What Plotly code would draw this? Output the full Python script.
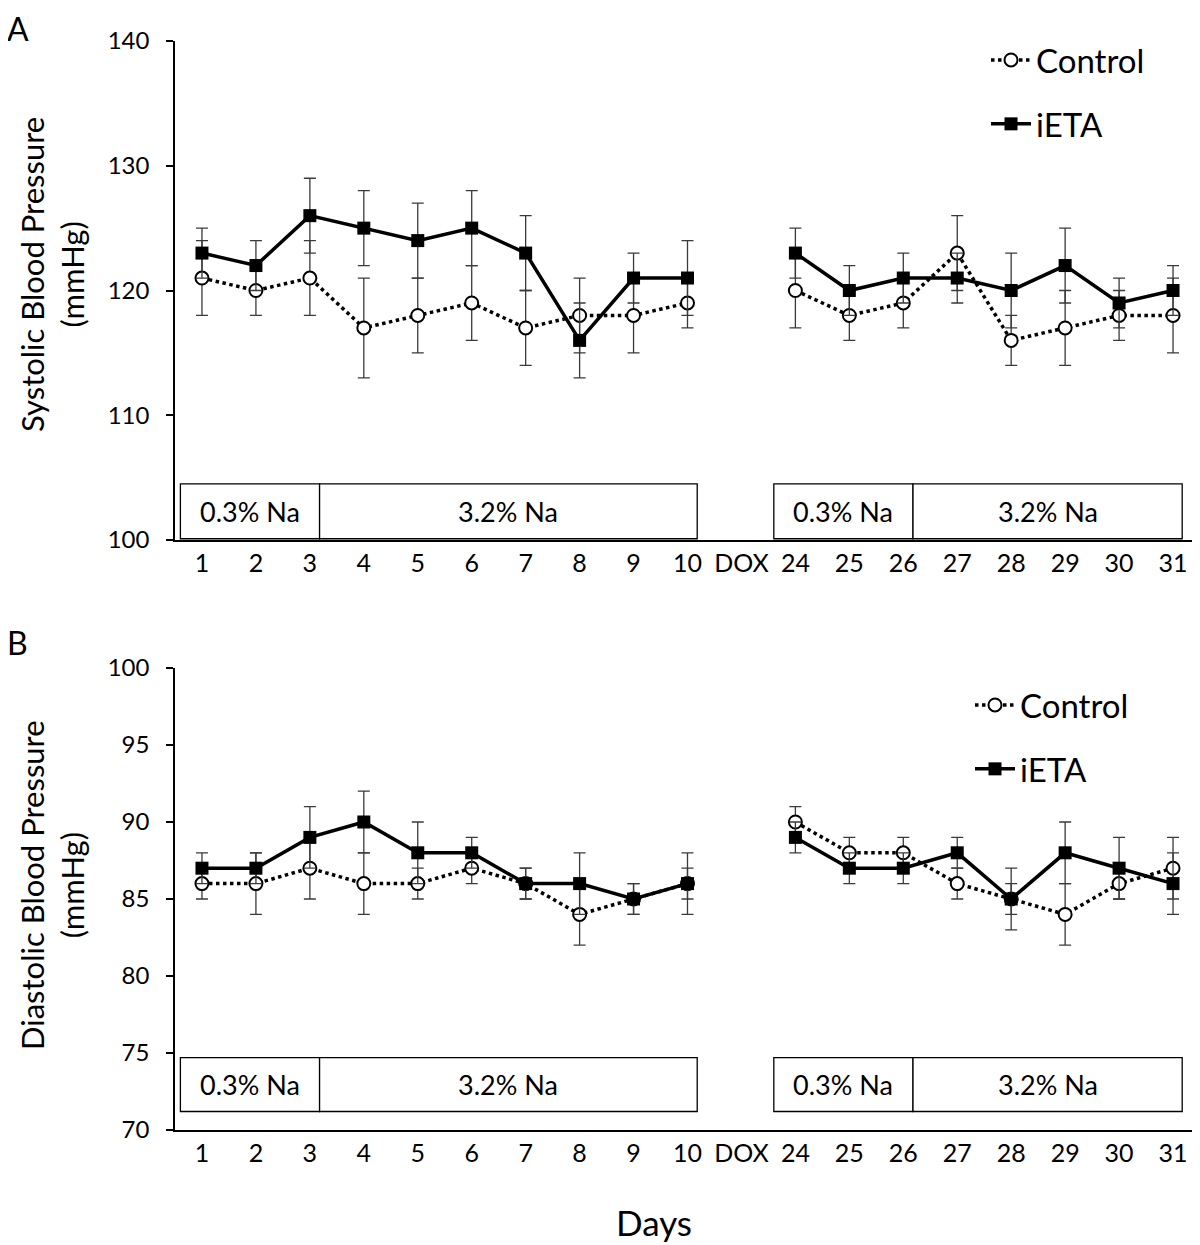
import plotly.graph_objects as go

# ---------------- data ----------------
days = ["1", "2", "3", "4", "5", "6", "7", "8", "9", "10", "DOX",
        "24", "25", "26", "27", "28", "29", "30", "31"]

sys_control = [121, 120, 121, 117, 118, 119, 117, 118, 118, 119, None,
               120, 118, 119, 123, 116, 117, 118, 118]
sys_control_err = [3, 2, 3, 4, 3, 3, 3, 3, 3, 2, None,
                   3, 2, 2, 3, 2, 3, 2, 3]
sys_ieta = [123, 122, 126, 125, 124, 125, 123, 116, 121, 121, None,
            123, 120, 121, 121, 120, 122, 119, 120]
sys_ieta_err = [2, 2, 3, 3, 3, 3, 3, 3, 2, 3, None,
                2, 2, 2, 2, 3, 3, 2, 2]

dia_control = [86, 86, 87, 86, 86, 87, 86, 84, 85, 86, None,
               90, 88, 88, 86, 85, 84, 86, 87]
dia_control_err = [1, 2, 2, 2, 1, 1, 1, 2, 1, 1, None,
                   1, 1, 1, 1, 1, 2, 1, 2]
dia_ieta = [87, 87, 89, 90, 88, 88, 86, 86, 85, 86, None,
            89, 87, 87, 88, 85, 88, 87, 86]
dia_ieta_err = [1, 1, 2, 2, 2, 1, 1, 2, 1, 2, None,
                1, 1, 1, 1, 2, 2, 2, 2]

sys_ticks = [100, 110, 120, 130, 140]
dia_ticks = [70, 75, 80, 85, 90, 95, 100]

diet_labels = ["0.3% Na", "3.2% Na", "0.3% Na", "3.2% Na"]

# ---------------- styling ----------------
FONT = "Lato, 'Open Sans', sans-serif"
OFF = 8                      # default page body margin of the html page
W, H = 1200 - OFF, 1245 - OFF
ML = 175 - OFF
PW = W - ML
ERR_COLOR = "#3a3a3a"


def px_y(yref_px):
    """page pixel (reference) -> paper y"""
    return 1 - (yref_px - OFF) / H


def px_x(xref_px):
    """page pixel (reference) -> paper x"""
    return (xref_px - OFF - ML) / PW


fig = go.Figure()


def add_series(y, err, name, xa, ya, legend, kind):
    if kind == "control":
        line = dict(color="black", width=3.5, dash="dot")
        marker = dict(symbol="circle", size=13, color="white",
                      line=dict(color="black", width=2))
    else:
        line = dict(color="black", width=3.5)
        marker = dict(symbol="square", size=13, color="black",
                      line=dict(color="black", width=0))
    fig.add_trace(go.Scatter(
        x=days, y=y, name=name, mode="lines+markers",
        line=line, marker=marker, connectgaps=False,
        error_y=dict(type="data", array=err, visible=True,
                     color=ERR_COLOR, thickness=1.3, width=6),
        xaxis=xa, yaxis=ya, legend=legend, legendgroup=name + legend,
    ))


add_series(sys_control, sys_control_err, "Control", "x", "y", "legend", "control")
add_series(sys_ieta, sys_ieta_err, "iETA", "x", "y", "legend", "ieta")
add_series(dia_control, dia_control_err, "Control", "x2", "y2", "legend2", "control")
add_series(dia_ieta, dia_ieta_err, "iETA", "x2", "y2", "legend2", "ieta")

axis_common = dict(
    showgrid=False, zeroline=False, showline=True, linecolor="black",
    linewidth=1.5, automargin=False,
)
xtickfont = dict(family=FONT, size=25, color="black")
ytickfont = dict(family=FONT, size=24, color="black")

domA = [px_y(540), px_y(41)]
domB = [px_y(1130), px_y(668)]

fig.update_layout(
    width=W, height=H,
    margin=dict(l=ML, r=0, t=0, b=0, autoexpand=False),
    paper_bgcolor="white", plot_bgcolor="white",
    font=dict(family=FONT, color="black"),
    xaxis=dict(**axis_common, type="category", categoryorder="array",
               categoryarray=days, range=[-0.5, 18.5], ticks="",
               tickfont=xtickfont, anchor="y", domain=[0, 1]),
    xaxis2=dict(**axis_common, type="category", categoryorder="array",
                categoryarray=days, range=[-0.5, 18.5], ticks="",
                tickfont=xtickfont, anchor="y2", domain=[0, 1]),
    yaxis=dict(**axis_common, range=[100, 140], tickvals=sys_ticks,
               ticks="outside", ticklen=7, tickwidth=1.5, tickcolor="black",
               tickfont=ytickfont, ticklabelstandoff=12, domain=domA, anchor="x"),
    yaxis2=dict(**axis_common, range=[70, 100], tickvals=dia_ticks,
                ticks="outside", ticklen=7, tickwidth=1.5, tickcolor="black",
                tickfont=ytickfont, ticklabelstandoff=12, domain=domB, anchor="x2"),
    legend=dict(x=px_x(1038 - 52), y=px_y(32), xanchor="left", yanchor="top",
                font=dict(family=FONT, size=33, color="black"),
                tracegroupgap=18, bgcolor="rgba(0,0,0,0)", itemwidth=40),
    legend2=dict(x=px_x(1022 - 52), y=px_y(677), xanchor="left", yanchor="top",
                 font=dict(family=FONT, size=33, color="black"),
                 tracegroupgap=18, bgcolor="rgba(0,0,0,0)", itemwidth=40),
)

# diet boxes (in category-index coordinates)
box_edges = [(-0.4, 2.18), (2.18, 9.18), (10.6, 13.18), (13.18, 18.17)]
box_y = {"y": (100.1, 104.5), "y2": (71.2, 74.7)}
for xa, ya in (("x", "y"), ("x2", "y2")):
    y0, y1 = box_y[ya]
    for (x0, x1), lab in zip(box_edges, diet_labels):
        fig.add_shape(type="rect", xref=xa, yref=ya, x0=x0, x1=x1, y0=y0, y1=y1,
                      line=dict(color="black", width=1.3), fillcolor="white",
                      layer="below")
        fig.add_annotation(xref=xa, yref=ya, x=(x0 + x1) / 2, y=(y0 + y1) / 2,
                           text=lab, showarrow=False,
                           font=dict(family=FONT, size=27, color="black"))

# panel letters, y titles, x title
fig.add_annotation(xref="paper", yref="paper", x=px_x(OFF - 2), y=px_y(OFF),
                   xanchor="left", yanchor="top", text="A", showarrow=False,
                   borderpad=0, font=dict(family=FONT, size=32, color="black"))
fig.add_annotation(xref="paper", yref="paper", x=px_x(OFF - 2), y=px_y(622),
                   xanchor="left", yanchor="top", text="B", showarrow=False,
                   borderpad=0, font=dict(family=FONT, size=32, color="black"))
fig.add_annotation(xref="paper", yref="paper", x=px_x(52), y=px_y(275),
                   xanchor="center", yanchor="middle", borderpad=0,
                   text="Systolic Blood Pressure<br>(mmHg)", textangle=-90,
                   showarrow=False, font=dict(family=FONT, size=31, color="black"))
fig.add_annotation(xref="paper", yref="paper", x=px_x(52), y=px_y(885),
                   xanchor="center", yanchor="middle", borderpad=0,
                   text="Diastolic Blood Pressure<br>(mmHg)", textangle=-90,
                   showarrow=False, font=dict(family=FONT, size=31, color="black"))
fig.add_annotation(xref="paper", yref="paper", x=px_x(654), y=px_y(1222),
                   xanchor="center", yanchor="middle",
                   text="Days", showarrow=False,
                   font=dict(family=FONT, size=35, color="black"))

fig.write_html("out.html")
